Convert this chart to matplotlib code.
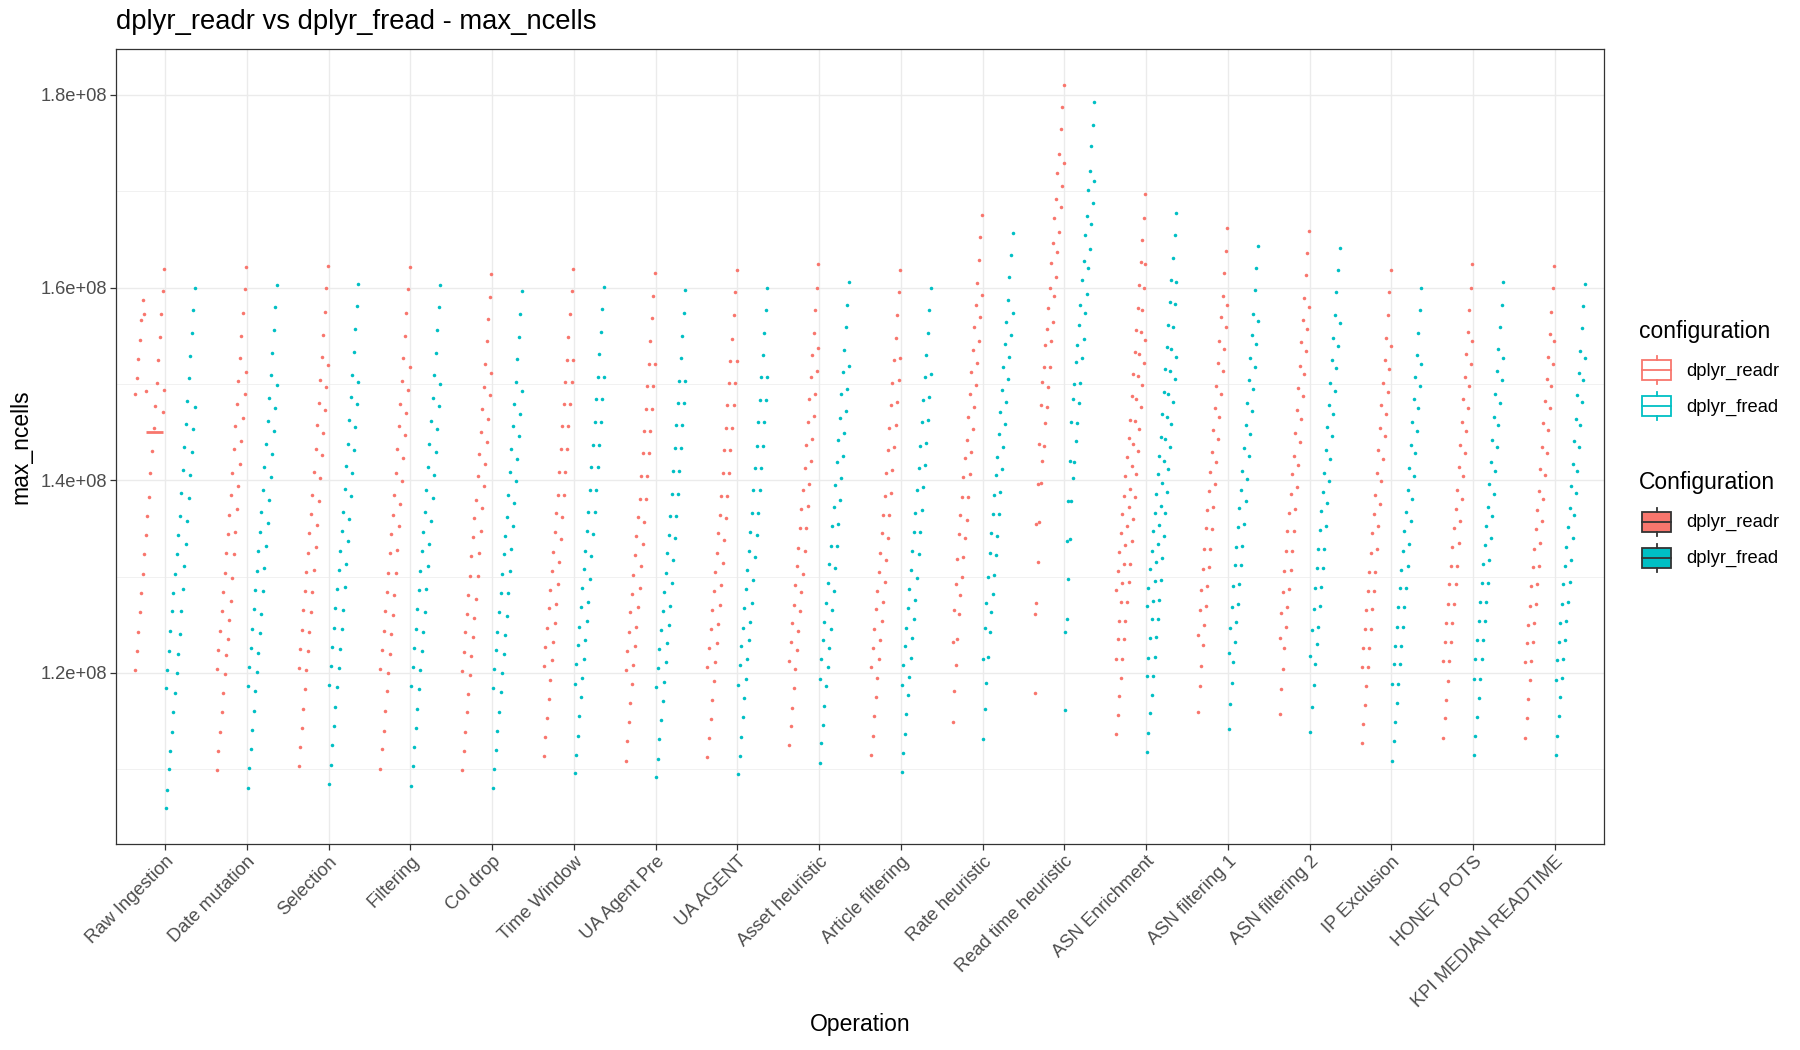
import numpy as np
import matplotlib
matplotlib.use("Agg")
import matplotlib.pyplot as plt
from matplotlib.patches import Rectangle
from matplotlib.lines import Line2D

plt.rcParams['font.family'] = ['Liberation Sans', 'DejaVu Sans']

# ---------------- data (values in units of 1e8; each inner list = one strand, runs 0..19) ----------------
SCALE = 1e8
nan = float('nan')

operations = ["Raw Ingestion", "Date mutation", "Selection", "Filtering", "Col drop", "Time Window",
              "UA Agent Pre", "UA AGENT", "Asset heuristic", "Article filtering", "Rate heuristic",
              "Read time heuristic", "ASN Enrichment", "ASN filtering 1", "ASN filtering 2",
              "IP Exclusion", "HONEY POTS", "KPI MEDIAN READTIME"]
configurations = ["dplyr_readr", "dplyr_fread"]
colors = {"dplyr_readr": "#F8766D", "dplyr_fread": "#00BFC4"}

raw_ingestion_readr = [
    [1.203, 1.223, 1.243, 1.263, 1.283, 1.303, 1.323, 1.343, 1.363, 1.383, 1.407, 1.430, 1.454, 1.477, 1.501, 1.525, 1.549, 1.573, 1.596, 1.619],
    [1.489, 1.506, 1.526, 1.546, 1.566, 1.587, 1.573, 1.493, nan, nan, nan, nan, nan, nan, nan, nan, nan, nan, 1.471, 1.494]]
raw_ingestion_fread = [
    [1.184, 1.203, 1.223, 1.244, 1.264, 1.283, 1.303, 1.323, 1.343, 1.363, 1.387, 1.411, 1.435, 1.458, 1.482, 1.506, 1.529, 1.553, 1.577, 1.600],
    [1.060, 1.079, 1.100, 1.119, 1.139, 1.160, 1.179, 1.200, 1.220, 1.240, 1.264, 1.287, 1.311, 1.334, 1.358, 1.382, 1.405, 1.429, 1.453, 1.476]]
raw_ingestion_median_readr = 1.450

date_mutation_readr = [
    [1.204, 1.224, 1.244, 1.264, 1.284, 1.304, 1.324, 1.344, 1.364, 1.385, 1.408, 1.432, 1.456, 1.479, 1.503, 1.527, 1.550, 1.574, 1.598, 1.621],
    [1.099, 1.119, 1.139, 1.159, 1.179, 1.199, 1.219, 1.235, 1.255, 1.275, 1.299, 1.323, 1.346, 1.370, 1.394, 1.417, 1.441, 1.465, 1.489, 1.512]]
date_mutation_fread = [
    [1.186, 1.206, 1.226, 1.246, 1.266, 1.286, 1.306, 1.327, 1.346, 1.367, 1.390, 1.414, 1.438, 1.461, 1.485, 1.509, 1.532, 1.556, 1.580, 1.603],
    [1.081, 1.101, 1.121, 1.141, 1.161, 1.181, 1.201, 1.221, 1.241, 1.261, 1.285, 1.309, 1.332, 1.356, 1.380, 1.403, 1.427, 1.451, 1.475, 1.499]]

selection_readr = [
    [1.205, 1.225, 1.245, 1.265, 1.285, 1.305, 1.325, 1.345, 1.365, 1.385, 1.409, 1.432, 1.457, 1.480, 1.504, 1.528, 1.551, 1.575, 1.599, 1.622],
    [1.103, 1.123, 1.143, 1.163, 1.183, 1.203, 1.223, 1.243, 1.263, 1.284, 1.307, 1.331, 1.354, 1.378, 1.402, 1.426, 1.449, 1.473, 1.497, 1.520]]
selection_fread = [
    [1.187, 1.207, 1.227, 1.247, 1.267, 1.287, 1.307, 1.327, 1.347, 1.367, 1.391, 1.415, 1.438, 1.462, 1.486, 1.509, 1.533, 1.557, 1.581, 1.604],
    [1.085, 1.105, 1.125, 1.145, 1.165, 1.185, 1.205, 1.225, 1.246, 1.265, 1.289, 1.313, 1.337, 1.360, 1.384, 1.408, 1.431, 1.455, 1.479, 1.502]]

filtering_readr = [
    [1.204, 1.224, 1.244, 1.264, 1.284, 1.304, 1.324, 1.344, 1.364, 1.385, 1.408, 1.432, 1.456, 1.479, 1.503, 1.527, 1.550, 1.574, 1.598, 1.621],
    [1.100, 1.121, 1.140, 1.161, 1.181, 1.200, 1.220, 1.240, 1.260, 1.281, 1.304, 1.328, 1.352, 1.375, 1.399, 1.423, 1.447, 1.470, 1.494, 1.518]]
filtering_fread = [
    [1.186, 1.206, 1.226, 1.246, 1.266, 1.286, 1.306, 1.327, 1.346, 1.367, 1.390, 1.414, 1.438, 1.461, 1.485, 1.509, 1.532, 1.556, 1.580, 1.603],
    [1.083, 1.103, 1.123, 1.143, 1.163, 1.183, 1.203, 1.223, 1.243, 1.263, 1.287, 1.311, 1.334, 1.358, 1.382, 1.405, 1.429, 1.453, 1.477, 1.500]]

col_drop_readr = [
    [1.202, 1.222, 1.242, 1.261, 1.281, 1.301, 1.321, 1.341, 1.361, 1.380, 1.404, 1.427, 1.450, 1.474, 1.497, 1.521, 1.544, 1.567, 1.590, 1.614],
    [1.099, 1.119, 1.139, 1.159, 1.178, 1.198, 1.218, 1.237, 1.257, 1.277, 1.301, 1.324, 1.347, 1.371, 1.394, 1.417, 1.440, 1.464, 1.488, 1.511]]
col_drop_fread = [
    [1.184, 1.204, 1.224, 1.243, 1.263, 1.283, 1.303, 1.323, 1.342, 1.362, 1.385, 1.409, 1.432, 1.456, 1.479, 1.502, 1.526, 1.549, 1.572, 1.596],
    [1.081, 1.100, 1.120, 1.140, 1.160, 1.180, 1.200, 1.220, 1.239, 1.259, 1.283, 1.306, 1.329, 1.353, 1.376, 1.399, 1.422, 1.446, 1.469, 1.493]]

time_window_readr = [
    [1.207, 1.227, 1.247, 1.267, 1.286, 1.306, 1.326, 1.346, 1.366, 1.385, 1.409, 1.432, 1.456, 1.479, 1.502, 1.525, 1.549, 1.572, 1.596, 1.619],
    [1.114, 1.134, 1.153, 1.173, 1.193, 1.213, 1.232, 1.252, 1.272, 1.292, 1.315, 1.339, 1.362, 1.385, 1.409, 1.432, 1.456, 1.479, 1.502, 1.525]]
time_window_fread = [
    [1.189, 1.209, 1.229, 1.248, 1.268, 1.288, 1.308, 1.327, 1.347, 1.367, 1.390, 1.414, 1.437, 1.460, 1.484, 1.507, 1.531, 1.554, 1.578, 1.601],
    [1.096, 1.115, 1.135, 1.155, 1.175, 1.195, 1.214, 1.234, 1.254, 1.274, 1.297, 1.321, 1.344, 1.367, 1.390, 1.414, 1.437, 1.460, 1.484, 1.507]]

ua_agent_pre_readr = [
    [1.203, 1.223, 1.243, 1.263, 1.282, 1.302, 1.322, 1.342, 1.362, 1.381, 1.404, 1.428, 1.451, 1.474, 1.498, 1.521, 1.545, 1.568, 1.591, 1.615],
    [1.109, 1.129, 1.149, 1.169, 1.189, 1.208, 1.228, 1.248, 1.268, 1.288, 1.311, 1.334, 1.357, 1.381, 1.404, 1.428, 1.451, 1.474, 1.498, 1.521]]
ua_agent_pre_fread = [
    [1.185, 1.205, 1.225, 1.245, 1.264, 1.284, 1.304, 1.324, 1.343, 1.363, 1.386, 1.410, 1.433, 1.457, 1.480, 1.503, 1.527, 1.550, 1.574, 1.597],
    [1.092, 1.111, 1.131, 1.151, 1.171, 1.191, 1.211, 1.231, 1.250, 1.270, 1.293, 1.317, 1.340, 1.363, 1.386, 1.410, 1.433, 1.457, 1.480, 1.503]]

ua_agent_readr = [
    [1.206, 1.226, 1.246, 1.265, 1.285, 1.305, 1.325, 1.345, 1.364, 1.384, 1.407, 1.431, 1.454, 1.478, 1.501, 1.524, 1.547, 1.571, 1.595, 1.618],
    [1.113, 1.132, 1.152, 1.172, 1.192, 1.211, 1.231, 1.251, 1.271, 1.291, 1.314, 1.338, 1.361, 1.384, 1.407, 1.431, 1.454, 1.478, 1.501, 1.524]]
ua_agent_fread = [
    [1.188, 1.208, 1.228, 1.247, 1.267, 1.287, 1.307, 1.327, 1.346, 1.366, 1.390, 1.413, 1.436, 1.460, 1.483, 1.507, 1.530, 1.553, 1.577, 1.600],
    [1.095, 1.114, 1.134, 1.154, 1.174, 1.194, 1.214, 1.234, 1.253, 1.273, 1.296, 1.320, 1.343, 1.366, 1.390, 1.413, 1.436, 1.460, 1.483, 1.507]]

asset_heuristic_readr = [
    [1.212, 1.232, 1.252, 1.271, 1.291, 1.311, 1.330, 1.350, 1.370, 1.390, 1.413, 1.437, 1.460, 1.484, 1.507, 1.530, 1.553, 1.577, 1.600, 1.624],
    [1.125, 1.145, 1.164, 1.184, 1.204, 1.224, 1.244, 1.264, 1.284, 1.303, 1.327, 1.350, 1.373, 1.396, 1.420, 1.443, 1.467, 1.490, 1.513, 1.537]]
asset_heuristic_fread = [
    [1.194, 1.214, 1.234, 1.253, 1.273, 1.293, 1.313, 1.332, 1.352, 1.372, 1.395, 1.419, 1.442, 1.465, 1.489, 1.512, 1.535, 1.559, 1.582, 1.606],
    [1.107, 1.127, 1.146, 1.166, 1.186, 1.206, 1.226, 1.246, 1.265, 1.285, 1.309, 1.332, 1.355, 1.379, 1.402, 1.425, 1.449, 1.472, 1.495, 1.519]]

article_filtering_readr = [
    [1.206, 1.226, 1.246, 1.266, 1.285, 1.305, 1.325, 1.345, 1.364, 1.384, 1.408, 1.431, 1.454, 1.478, 1.501, 1.525, 1.548, 1.571, 1.595, 1.618],
    [1.115, 1.135, 1.155, 1.175, 1.195, 1.215, 1.234, 1.254, 1.274, 1.294, 1.317, 1.340, 1.364, 1.387, 1.411, 1.434, 1.457, 1.481, 1.504, 1.527]]
article_filtering_fread = [
    [1.188, 1.208, 1.228, 1.247, 1.267, 1.287, 1.307, 1.327, 1.346, 1.366, 1.390, 1.413, 1.436, 1.460, 1.483, 1.507, 1.530, 1.553, 1.577, 1.600],
    [1.097, 1.117, 1.137, 1.157, 1.177, 1.196, 1.216, 1.236, 1.256, 1.276, 1.299, 1.323, 1.346, 1.369, 1.393, 1.416, 1.439, 1.463, 1.486, 1.510]]

rate_heuristic_readr = [
    [1.232, 1.265, 1.292, 1.318, 1.344, 1.364, 1.383, 1.403, 1.423, 1.442, 1.466, 1.489, 1.512, 1.535, 1.559, 1.582, 1.605, 1.629, 1.652, 1.675],
    [1.149, 1.181, 1.208, 1.235, 1.261, 1.281, 1.300, 1.320, 1.340, 1.359, 1.383, 1.406, 1.429, 1.453, 1.476, 1.499, 1.522, 1.545, 1.569, 1.592]]
rate_heuristic_fread = [
    [1.214, 1.247, 1.273, 1.300, 1.325, 1.345, 1.365, 1.385, 1.405, 1.424, 1.448, 1.471, 1.494, 1.518, 1.541, 1.564, 1.587, 1.611, 1.634, 1.657],
    [1.131, 1.163, 1.190, 1.217, 1.243, 1.263, 1.282, 1.302, 1.322, 1.342, 1.365, 1.388, 1.412, 1.435, 1.458, 1.481, 1.505, 1.528, 1.551, 1.574]]

read_time_heuristic_readr = [
    [1.261, 1.355, 1.396, 1.438, 1.478, 1.502, 1.518, 1.540, 1.557, 1.579, 1.600, 1.625, 1.646, 1.672, 1.692, 1.719, 1.739, 1.764, 1.787, 1.810],
    [1.179, 1.273, 1.315, 1.357, 1.397, 1.420, 1.436, 1.459, 1.476, 1.497, 1.518, 1.544, 1.564, 1.591, 1.611, 1.637, 1.658, 1.684, 1.705, 1.729]]
read_time_heuristic_fread = [
    [1.243, 1.337, 1.378, 1.420, 1.460, 1.484, 1.500, 1.523, 1.540, 1.561, 1.582, 1.608, 1.628, 1.654, 1.674, 1.701, 1.721, 1.747, 1.769, 1.792],
    [1.162, 1.256, 1.298, 1.339, 1.378, 1.402, 1.419, 1.441, 1.459, 1.480, 1.501, 1.527, 1.547, 1.574, 1.593, 1.620, 1.640, 1.666, 1.688, 1.711]]

asn_enrichment_readr = [
    [1.286, 1.306, 1.326, 1.345, 1.365, 1.384, 1.404, 1.424, 1.444, 1.463, 1.487, 1.510, 1.533, 1.556, 1.579, 1.603, 1.626, 1.649, 1.672, 1.697],
    [1.215, 1.235, 1.254, 1.274, 1.293, 1.313, 1.333, 1.352, 1.372, 1.391, 1.415, 1.438, 1.461, 1.484, 1.508, 1.531, 1.554, 1.577, 1.600, 1.624],
    [1.137, 1.156, 1.176, 1.195, 1.215, 1.235, 1.254, 1.274, 1.294, 1.313, 1.337, 1.360, 1.383, 1.406, 1.430, 1.453, 1.476, 1.499, 1.522, 1.546]]
asn_enrichment_fread = [
    [1.269, 1.288, 1.308, 1.327, 1.347, 1.366, 1.386, 1.406, 1.425, 1.445, 1.469, 1.492, 1.515, 1.538, 1.561, 1.585, 1.608, 1.631, 1.654, 1.677],
    [1.197, 1.216, 1.236, 1.256, 1.275, 1.295, 1.315, 1.334, 1.354, 1.373, 1.397, 1.420, 1.443, 1.466, 1.490, 1.513, 1.536, 1.559, 1.583, 1.606],
    [1.118, 1.138, 1.158, 1.177, 1.197, 1.217, 1.237, 1.256, 1.276, 1.296, 1.319, 1.342, 1.366, 1.388, 1.412, 1.435, 1.458, 1.481, 1.505, 1.528]]

asn_filtering_1_readr = [
    [1.239, 1.265, 1.286, 1.308, 1.329, 1.350, 1.369, 1.389, 1.409, 1.429, 1.452, 1.475, 1.498, 1.522, 1.545, 1.569, 1.591, 1.615, 1.638, 1.662],
    [1.160, 1.186, 1.207, 1.229, 1.250, 1.270, 1.290, 1.310, 1.329, 1.349, 1.372, 1.396, 1.419, 1.443, 1.466, 1.490, 1.513, 1.536, 1.559, 1.582]]
asn_filtering_1_fread = [
    [1.221, 1.247, 1.268, 1.290, 1.312, 1.331, 1.351, 1.371, 1.390, 1.410, 1.433, 1.457, 1.480, 1.504, 1.527, 1.551, 1.573, 1.597, 1.620, 1.643],
    [1.142, 1.168, 1.190, 1.211, 1.232, 1.253, 1.272, 1.292, 1.312, 1.332, 1.355, 1.378, 1.401, 1.425, 1.448, 1.472, 1.495, 1.518, 1.541, 1.565]]

asn_filtering_2_readr = [
    [1.236, 1.262, 1.284, 1.306, 1.327, 1.347, 1.366, 1.386, 1.406, 1.425, 1.449, 1.473, 1.496, 1.519, 1.543, 1.566, 1.589, 1.613, 1.636, 1.659],
    [1.157, 1.183, 1.204, 1.226, 1.248, 1.268, 1.287, 1.307, 1.327, 1.347, 1.370, 1.393, 1.416, 1.440, 1.464, 1.487, 1.510, 1.534, 1.557, 1.580]]
asn_filtering_2_fread = [
    [1.218, 1.245, 1.266, 1.288, 1.309, 1.329, 1.348, 1.368, 1.388, 1.408, 1.431, 1.455, 1.478, 1.501, 1.525, 1.548, 1.571, 1.595, 1.618, 1.641],
    [1.139, 1.165, 1.187, 1.209, 1.230, 1.248, 1.269, 1.289, 1.309, 1.329, 1.352, 1.376, 1.399, 1.422, 1.446, 1.469, 1.493, 1.516, 1.539, 1.563]]

ip_exclusion_readr = [
    [1.206, 1.226, 1.246, 1.265, 1.285, 1.305, 1.325, 1.345, 1.365, 1.385, 1.408, 1.431, 1.454, 1.478, 1.501, 1.525, 1.548, 1.571, 1.595, 1.618],
    [1.127, 1.147, 1.167, 1.186, 1.206, 1.226, 1.246, 1.266, 1.285, 1.305, 1.329, 1.352, 1.375, 1.399, 1.422, 1.446, 1.469, 1.492, 1.515, 1.539]]
ip_exclusion_fread = [
    [1.189, 1.209, 1.228, 1.248, 1.268, 1.288, 1.307, 1.327, 1.347, 1.367, 1.390, 1.413, 1.437, 1.460, 1.484, 1.507, 1.530, 1.553, 1.577, 1.600],
    [1.109, 1.129, 1.149, 1.169, 1.189, 1.209, 1.228, 1.248, 1.268, 1.288, 1.311, 1.334, 1.358, 1.381, 1.404, 1.428, 1.451, 1.475, 1.498, 1.521]]

honey_pots_readr = [
    [1.212, 1.232, 1.252, 1.272, 1.292, 1.311, 1.331, 1.350, 1.370, 1.390, 1.414, 1.437, 1.460, 1.484, 1.507, 1.531, 1.554, 1.577, 1.600, 1.624],
    [1.133, 1.153, 1.172, 1.192, 1.212, 1.232, 1.252, 1.272, 1.292, 1.311, 1.335, 1.358, 1.381, 1.404, 1.428, 1.451, 1.475, 1.498, 1.521, 1.545]]
honey_pots_fread = [
    [1.194, 1.214, 1.234, 1.254, 1.274, 1.293, 1.313, 1.333, 1.353, 1.372, 1.396, 1.419, 1.442, 1.466, 1.489, 1.513, 1.536, 1.559, 1.582, 1.606],
    [1.115, 1.135, 1.154, 1.174, 1.194, 1.214, 1.234, 1.254, 1.274, 1.293, 1.317, 1.340, 1.363, 1.386, 1.410, 1.434, 1.457, 1.480, 1.504, 1.527]]

kpi_median_readtime_readr = [
    [1.211, 1.231, 1.250, 1.270, 1.290, 1.310, 1.329, 1.349, 1.369, 1.389, 1.412, 1.435, 1.459, 1.482, 1.505, 1.528, 1.552, 1.575, 1.599, 1.622],
    [1.133, 1.153, 1.173, 1.193, 1.212, 1.232, 1.252, 1.272, 1.292, 1.311, 1.335, 1.358, 1.381, 1.405, 1.428, 1.452, 1.475, 1.498, 1.521, 1.545]]
kpi_median_readtime_fread = [
    [1.193, 1.213, 1.232, 1.252, 1.272, 1.292, 1.311, 1.331, 1.351, 1.371, 1.394, 1.417, 1.441, 1.464, 1.488, 1.511, 1.534, 1.558, 1.581, 1.604],
    [1.115, 1.135, 1.155, 1.175, 1.195, 1.214, 1.234, 1.254, 1.274, 1.294, 1.317, 1.340, 1.364, 1.387, 1.410, 1.434, 1.457, 1.481, 1.504, 1.527]]

readr_data = [raw_ingestion_readr, date_mutation_readr, selection_readr, filtering_readr, col_drop_readr,
              time_window_readr, ua_agent_pre_readr, ua_agent_readr, asset_heuristic_readr,
              article_filtering_readr, rate_heuristic_readr, read_time_heuristic_readr,
              asn_enrichment_readr, asn_filtering_1_readr, asn_filtering_2_readr, ip_exclusion_readr,
              honey_pots_readr, kpi_median_readtime_readr]
fread_data = [raw_ingestion_fread, date_mutation_fread, selection_fread, filtering_fread, col_drop_fread,
              time_window_fread, ua_agent_pre_fread, ua_agent_fread, asset_heuristic_fread,
              article_filtering_fread, rate_heuristic_fread, read_time_heuristic_fread,
              asn_enrichment_fread, asn_filtering_1_fread, asn_filtering_2_fread, ip_exclusion_fread,
              honey_pots_fread, kpi_median_readtime_fread]

yticks = [1.2e8, 1.4e8, 1.6e8, 1.8e8]
ytick_labels = ["1.2e+08", "1.4e+08", "1.6e+08", "1.8e+08"]

# ---------------- figure ----------------
W, H = 1800, 1050
fig = plt.figure(figsize=(W / 100, H / 100), dpi=100)
fig.patch.set_facecolor("white")

def fx(px):
    return px / W

def fy(py):
    return 1 - py / H

left, right, top, bottom = 116, 1604, 49, 844
ax = fig.add_axes([fx(left), fy(bottom), fx(right - left), (bottom - top) / H])

n_runs = 20
dodge_width = 0.75
n_slots = n_runs * len(configurations)
slot = dodge_width / n_slots

all_vals = []
for ci, (cfg, dataset) in enumerate(zip(configurations, [readr_data, fread_data])):
    xs, ys = [], []
    for oi, strands in enumerate(dataset):
        for strand in strands:
            for k, v in enumerate(strand):
                if np.isnan(v):
                    continue
                xs.append(oi + 1 - dodge_width / 2 + slot * (k + ci * n_runs + 0.5))
                ys.append(v * SCALE)
    all_vals.extend(ys)
    ax.scatter(xs, ys, s=6.5, color=colors[cfg], linewidths=0, zorder=3)

# boxplot median remnant at Raw Ingestion (readr)
ax.plot([1 - 0.236, 1 - 0.024], [raw_ingestion_median_readr * SCALE] * 2,
        color=colors["dplyr_readr"], lw=2.0, solid_capstyle="butt", zorder=2)

ymin, ymax = min(all_vals), max(all_vals)
pad = 0.05 * (ymax - ymin)
ax.set_ylim(ymin - pad, ymax + pad)
ax.set_xlim(0.4, len(operations) + 0.6)

# grid
ax.set_facecolor("white")
ax.set_yticks(yticks)
ax.set_yticklabels(ytick_labels)
ax.set_yticks([1.1e8, 1.3e8, 1.5e8, 1.7e8], minor=True)
ax.set_xticks(np.arange(1, len(operations) + 1))
ax.set_xticklabels(operations, rotation=45, ha="right", va="top", rotation_mode="anchor")
ax.grid(which="major", color="#EBEBEB", lw=1.0, zorder=0)
ax.grid(which="minor", axis="y", color="#EBEBEB", lw=0.5, zorder=0)
ax.set_axisbelow(True)
for sp in ax.spines.values():
    sp.set_color("#333333")
    sp.set_linewidth(0.9)
ax.tick_params(axis="both", which="major", color="#333333", width=0.9, length=4,
               labelsize=13.2, labelcolor="#4D4D4D", pad=2.5)
ax.tick_params(axis="y", which="minor", length=0)

# titles
fig.text(fx(116), fy(22), "dplyr_readr vs dplyr_fread - max_ncells", fontsize=19.7,
         ha="left", va="center", color="black")
fig.text(fx((left + right) / 2), fy(1025), "Operation", fontsize=16.5, ha="center", va="center")
fig.text(fx(21), fy((top + bottom) / 2), "max_ncells", fontsize=16.5, ha="center", va="center",
         rotation=90)

# ---------------- legends (drawn manually, ggplot style) ----------------
def box_key(cx, cy, edge, face, w=29, h=20, whisk=4):
    x0 = cx - w / 2
    fig.add_artist(Rectangle((fx(x0), fy(cy + h / 2)), w / W, h / H, transform=fig.transFigure,
                             facecolor=face, edgecolor=edge, lw=1.3))
    fig.add_artist(Line2D([fx(x0), fx(x0 + w)], [fy(cy), fy(cy)], transform=fig.transFigure,
                          color=edge, lw=1.3))
    fig.add_artist(Line2D([fx(cx), fx(cx)], [fy(cy - h / 2 - whisk), fy(cy - h / 2)],
                          transform=fig.transFigure, color=edge, lw=1.3))
    fig.add_artist(Line2D([fx(cx), fx(cx)], [fy(cy + h / 2), fy(cy + h / 2 + whisk)],
                          transform=fig.transFigure, color=edge, lw=1.3))

fig.text(fx(1639), fy(331), "configuration", fontsize=16.5, ha="left", va="center")
box_key(1656.5, 370, colors["dplyr_readr"], "white")
box_key(1656.5, 406, colors["dplyr_fread"], "white")
fig.text(fx(1686), fy(371), "dplyr_readr", fontsize=13.2, ha="left", va="center")
fig.text(fx(1686), fy(407), "dplyr_fread", fontsize=13.2, ha="left", va="center")

fig.text(fx(1639), fy(482), "Configuration", fontsize=16.5, ha="left", va="center")
box_key(1656.5, 522, "#333333", colors["dplyr_readr"])
box_key(1656.5, 558, "#333333", colors["dplyr_fread"])
fig.text(fx(1686), fy(522), "dplyr_readr", fontsize=13.2, ha="left", va="center")
fig.text(fx(1686), fy(558), "dplyr_fread", fontsize=13.2, ha="left", va="center")

fig.savefig("out.png", dpi=100, facecolor="white")
